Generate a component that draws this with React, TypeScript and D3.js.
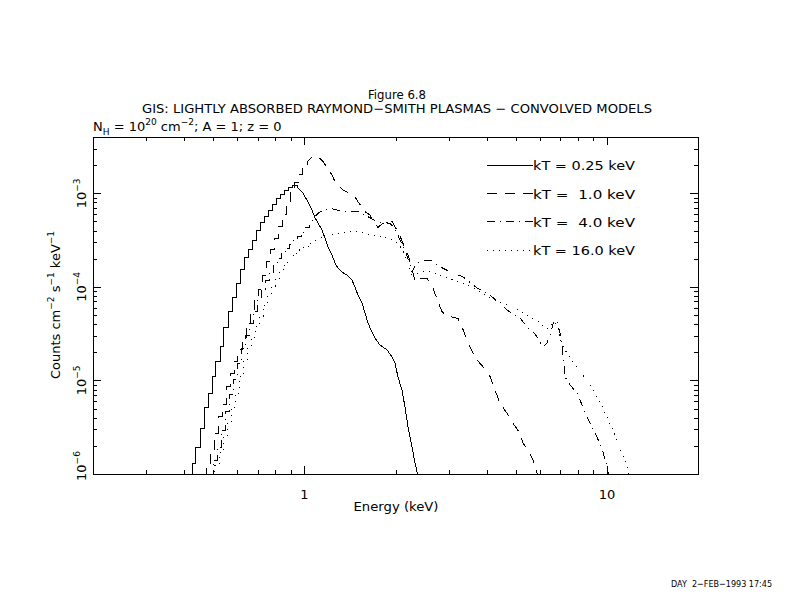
import React from 'react';
import * as d3 from 'd3';

type Pt = [number, number];

// ---- data (energy keV, counts cm^-2 s^-1 keV^-1) ----
const kt025Steps: Pt[] = [
  [0.425, 9e-7], [0.425, 1.28e-6], [0.438, 1.9e-6], [0.452, 3.03e-6], [0.466, 5.08e-6],
  [0.48, 7.34e-6], [0.495, 1.09e-5], [0.51, 1.61e-5], [0.526, 2.33e-5], [0.542, 3.64e-5],
  [0.559, 5.39e-5], [0.577, 7.61e-5], [0.594, 1.09e-4], [0.613, 1.55e-4], [0.632, 2.06e-4],
  [0.651, 2.54e-4], [0.671, 3.17e-4], [0.692, 3.96e-4], [0.714, 4.82e-4], [0.736, 5.65e-4],
  [0.759, 6.63e-4], [0.782, 7.69e-4], [0.806, 8.7e-4], [0.831, 9.83e-4], [0.857, 1.085e-3],
  [0.883, 1.154e-3], [0.911, 1.21e-3],
];
const kt025Tail: Pt[] = [
  [0.952, 1.146e-3], [0.989, 1.008e-3], [1.027, 8.08e-4], [1.059, 6.63e-4], [1.084, 5.45e-4],
  [1.109, 4.82e-4], [1.143, 4.06e-4], [1.169, 3.33e-4], [1.196, 2.67e-4], [1.233, 2.19e-4],
  [1.262, 1.8e-4], [1.291, 1.59e-4], [1.331, 1.44e-4], [1.383, 1.34e-4], [1.436, 1.18e-4],
  [1.469, 9.97e-5], [1.503, 8.19e-5], [1.55, 6.73e-5], [1.586, 5.26e-5], [1.622, 4.11e-5],
  [1.672, 3.29e-5], [1.711, 2.84e-5], [1.777, 2.39e-5], [1.875, 2.12e-5], [1.947, 1.78e-5],
  [1.992, 1.54e-5], [2.038, 1.09e-5], [2.101, 7.9e-6], [2.15, 5.2e-6], [2.2, 3.18e-6],
  [2.268, 1.94e-6], [2.32, 1.31e-6], [2.374, 9.5e-7],
];

const kt1Steps: Pt[] = [
  [0.473, 9e-7], [0.473, 1.16e-6], [0.488, 1.72e-6], [0.503, 2.74e-6], [0.518, 4.07e-6],
  [0.534, 5.47e-6], [0.551, 8.51e-6], [0.568, 1.2e-5], [0.585, 1.61e-5], [0.603, 2.12e-5],
  [0.622, 2.77e-5], [0.641, 3.73e-5], [0.661, 5.26e-5], [0.682, 7.24e-5], [0.703, 9.49e-5],
  [0.725, 1.31e-4], [0.747, 1.85e-4], [0.77, 2.48e-4], [0.794, 3.33e-4], [0.819, 4.47e-4],
  [0.844, 5.87e-4], [0.87, 7.88e-4], [0.897, 1.03e-3], [0.925, 1.29e-3], [0.953, 1.57e-3],
  [0.983, 1.87e-3],
];
const kt1Tail: Pt[] = [
  [1.02, 2.16e-3], [1.059, 2.43e-3], [1.109, 2.46e-3], [1.152, 2.18e-3], [1.196, 1.85e-3],
  [1.233, 1.57e-3], [1.262, 1.33e-3], [1.291, 1.23e-3], [1.341, 1.085e-3], [1.415, 1.0e-3],
  [1.469, 9.2e-4], [1.503, 8.14e-4], [1.55, 7.14e-4], [1.586, 6.36e-4], [1.647, 5.87e-4],
  [1.685, 4.97e-4], [1.75, 4.33e-4], [1.805, 4.7e-4], [1.875, 5.06e-4], [1.947, 5.06e-4],
  [1.992, 4.4e-4], [2.069, 3.5e-4], [2.117, 2.92e-4], [2.2, 2.19e-4], [2.268, 1.58e-4],
  [2.32, 1.14e-4], [2.41, 1.235e-4], [2.542, 1.235e-4], [2.661, 9.66e-5], [2.764, 6.94e-5],
  [2.85, 5.43e-5], [2.96, 4.88e-5], [3.218, 4.61e-5], [3.318, 3.75e-5], [3.473, 2.49e-5],
  [3.72, 1.65e-5], [3.894, 1.4e-5], [4.107, 1.1e-5], [4.266, 7.9e-6], [4.432, 5.7e-6],
  [4.674, 4.46e-6], [4.892, 3.48e-6], [5.16, 2.72e-6], [5.279, 2.13e-6], [5.485, 1.81e-6],
  [5.697, 1.41e-6], [5.874, 1.02e-6], [5.919, 9.3e-7],
];

const kt4Steps: Pt[] = [
  [0.499, 9e-7], [0.499, 1.41e-6], [0.514, 1.94e-6], [0.53, 2.95e-6], [0.547, 4.6e-6],
  [0.564, 6.99e-6], [0.581, 1.036e-5], [0.599, 1.5e-5], [0.617, 2.17e-5], [0.637, 2.99e-5],
  [0.656, 4.11e-5], [0.677, 5.52e-5], [0.698, 7.24e-5], [0.719, 9.49e-5], [0.741, 1.156e-4],
  [0.764, 1.44e-4], [0.788, 1.71e-4], [0.812, 1.99e-4], [0.838, 2.3e-4], [0.863, 2.6e-4],
  [0.89, 2.87e-4], [0.918, 3.17e-4], [0.946, 3.45e-4], [0.975, 3.86e-4], [1.006, 4.26e-4],
];
const kt4Tail: Pt[] = [
  [1.043, 4.78e-4], [1.084, 5.63e-4], [1.109, 6.12e-4], [1.152, 6.63e-4], [1.215, 6.92e-4],
  [1.281, 6.63e-4], [1.341, 6.36e-4], [1.492, 6.47e-4], [1.586, 5.87e-4], [1.737, 4.97e-4],
  [1.918, 4.78e-4], [1.992, 4.23e-4], [2.069, 3.17e-4], [2.15, 2.48e-4], [2.217, 1.85e-4],
  [2.268, 1.44e-4], [2.338, 1.76e-4], [2.447, 1.89e-4], [2.601, 1.94e-4], [2.807, 1.64e-4],
  [3.029, 1.45e-4], [3.343, 1.28e-4], [3.72, 9.73e-5], [4.107, 8.19e-5], [4.674, 5.66e-5],
  [5.16, 4.65e-5], [5.443, 3.75e-5], [5.784, 3.14e-5], [6.01, 2.58e-5], [6.147, 2.29e-5],
  [6.336, 2.51e-5], [6.483, 3.06e-5], [6.634, 4.01e-5], [6.735, 4.43e-5], [6.84, 4.21e-5],
  [6.998, 3.21e-5], [7.104, 2.39e-5], [7.268, 1.09e-5], [7.551, 8.94e-6], [7.962, 7.34e-6],
  [8.593, 4.07e-6], [9.272, 2.49e-6], [9.705, 1.72e-6], [10.01, 1.19e-6], [10.16, 9.3e-7],
];

const kt16Steps: Pt[] = [
  [0.506, 9e-7], [0.506, 1.22e-6], [0.522, 1.68e-6], [0.538, 2.43e-6], [0.555, 3.6e-6],
  [0.572, 5.2e-6], [0.59, 7.34e-6], [0.608, 1.09e-5], [0.627, 1.61e-5], [0.646, 2.22e-5],
  [0.666, 2.91e-5], [0.687, 3.73e-5], [0.708, 4.88e-5], [0.73, 6.4e-5], [0.753, 8.19e-5],
  [0.776, 1.02e-4], [0.8, 1.21e-4], [0.825, 1.44e-4], [0.85, 1.69e-4], [0.877, 1.94e-4],
  [0.904, 2.14e-4], [0.932, 2.3e-4], [0.961, 2.48e-4], [0.99, 2.67e-4],
];
const kt16Tail: Pt[] = [
  [1.043, 2.92e-4], [1.126, 3.31e-4], [1.215, 3.58e-4], [1.311, 3.74e-4], [1.415, 3.89e-4],
  [1.492, 3.89e-4], [1.685, 3.58e-4], [1.918, 3.31e-4], [2.038, 2.92e-4], [2.117, 2.48e-4],
  [2.2, 1.8e-4], [2.268, 1.34e-4], [2.302, 1.21e-4], [2.374, 1.41e-4], [2.447, 1.45e-4],
  [2.601, 1.45e-4], [2.807, 1.34e-4], [3.099, 1.18e-4], [3.608, 9.85e-5], [4.202, 7.42e-5],
  [4.781, 6.25e-5], [5.443, 5.0e-5], [6.01, 4.11e-5], [6.336, 3.55e-5], [6.533, 3.91e-5],
  [6.735, 4.21e-5], [6.892, 3.55e-5], [7.104, 2.39e-5], [7.551, 1.74e-5], [7.962, 1.39e-5],
  [8.463, 1.06e-5], [8.994, 7.9e-6], [9.486, 5.88e-6], [10.01, 4.07e-6], [10.8, 2.31e-6],
  [11.65, 1.19e-6], [11.83, 9.3e-7],
];

const seriesLabels = ['kT = 0.25 keV', 'kT =  1.0 keV', 'kT =  4.0 keV', 'kT = 16.0 keV'];
const xTickValues = [1, 10];
const xTickLabels = ['1', '10'];
const yTickValues = [1e-6, 1e-5, 1e-4, 1e-3];
const yTickExponents = ['\u22126', '\u22125', '\u22124', '\u22123'];
const figureLabel = 'Figure 6.8';
const titleText = 'GIS: LIGHTLY ABSORBED RAYMOND\u2212SMITH PLASMAS \u2212 CONVOLVED MODELS';
const xAxisLabel = 'Energy (keV)';
const stampText = 'DAY  2\u2212FEB\u22121993 17:45';

// ---- layout ----
const W = 792, H = 612;
const X0 = 93, X1 = 698, Y0 = 137, Y1 = 474;
const FONT = '"DejaVu Sans", sans-serif';
const dashStyles = [undefined, '10 8', '8 5 1 5', '1 5'];

export default function App() {
  const x = d3.scaleLog().domain([0.2, 20]).range([X0, X1]);
  const y = d3.scaleLog().domain([1e-6, 4e-3]).range([Y1, Y0]);
  const stepGen = d3.line<Pt>().x(d => x(d[0])).y(d => y(d[1])).curve(d3.curveStepAfter);
  const linGen = d3.line<Pt>().x(d => x(d[0])).y(d => y(d[1]));
  const pathFor = (steps: Pt[], tail: Pt[]) =>
    (stepGen([...steps, tail[0]]) || '') + (linGen(tail) || '').replace(/^M/, 'L');

  const series = [
    pathFor(kt025Steps, kt025Tail),
    pathFor(kt1Steps, kt1Tail),
    pathFor(kt4Steps, kt4Tail),
    pathFor(kt16Steps, kt16Tail),
  ];

  const xMinor: number[] = [];
  [0.1, 1, 10].forEach(dec => { for (let k = 2; k <= 9; k++) { const v = k * dec; if (v > 0.2 && v < 20 && v !== 1 && v !== 10) xMinor.push(v); } });
  const yMinor: number[] = [];
  [1e-6, 1e-5, 1e-4, 1e-3].forEach(dec => { for (let k = 2; k <= 9; k++) { const v = k * dec; if (v < 4e-3) yMinor.push(v); } });

  const ticks: JSX.Element[] = [];
  xMinor.forEach((v, i) => {
    const px = Math.round(x(v)) + 0.5;
    ticks.push(<line key={'xb' + i} x1={px} x2={px} y1={Y1} y2={Y1 - 4} />);
    ticks.push(<line key={'xt' + i} x1={px} x2={px} y1={Y0} y2={Y0 + 4} />);
  });
  xTickValues.forEach((v, i) => {
    const px = Math.round(x(v)) + 0.5;
    ticks.push(<line key={'XB' + i} x1={px} x2={px} y1={Y1} y2={Y1 - 8} />);
    ticks.push(<line key={'XT' + i} x1={px} x2={px} y1={Y0} y2={Y0 + 8} />);
  });
  yMinor.forEach((v, i) => {
    const py = Math.round(y(v)) + 0.5;
    ticks.push(<line key={'yl' + i} x1={X0} x2={X0 + 4} y1={py} y2={py} />);
    ticks.push(<line key={'yr' + i} x1={X1} x2={X1 - 4} y1={py} y2={py} />);
  });
  yTickValues.forEach((v, i) => {
    const py = Math.round(y(v)) + 0.5;
    ticks.push(<line key={'YL' + i} x1={X0} x2={X0 + 8} y1={py} y2={py} />);
    ticks.push(<line key={'YR' + i} x1={X1} x2={X1 - 8} y1={py} y2={py} />);
  });

  const legendY = [165, 193.5, 221.5, 250];

  return (
    <svg width={W} height={H} viewBox={`0 0 ${W} ${H}`}
      style={{ position: 'absolute', left: 0, top: 0, background: '#fff' }}
      fontFamily={FONT}>
      <rect x={0} y={0} width={W} height={H} fill="#fff" />
      <defs>
        <clipPath id="plotClip">
          <rect x={X0} y={Y0} width={X1 - X0} height={Y1 - Y0} />
        </clipPath>
      </defs>

      {/* titles */}
      <text x={397} y={98.5} textAnchor="middle" fontSize={12} textLength={58} lengthAdjust="spacingAndGlyphs">{figureLabel}</text>
      <text x={397} y={113} textAnchor="middle" fontSize={12.5} textLength={510} lengthAdjust="spacingAndGlyphs">{titleText}</text>
      <text x={93} y={131} fontSize={13} style={{ whiteSpace: 'pre' }}>
        N<tspan fontSize={9} dy={4}>H</tspan>
        <tspan dy={-4}>{' = 10'}</tspan>
        <tspan fontSize={9} dy={-6}>20</tspan>
        <tspan dy={6}>{' cm'}</tspan>
        <tspan fontSize={9} dy={-6}>{'\u22122'}</tspan>
        <tspan dy={6}>{'; A = 1; z = 0'}</tspan>
      </text>

      {/* axes box */}
      <g stroke="#000" strokeWidth={1} shapeRendering="crispEdges" fill="none">
        <rect x={X0 + 0.5} y={Y0 + 0.5} width={X1 - X0} height={Y1 - Y0} />
        {ticks}
      </g>

      {/* x tick labels */}
      {xTickValues.map((v, i) => (
        <text key={'xl' + i} x={x(v)} y={499} textAnchor="middle" fontSize={13}>{xTickLabels[i]}</text>
      ))}
      <text x={396} y={511} textAnchor="middle" fontSize={13} textLength={85} lengthAdjust="spacingAndGlyphs">{xAxisLabel}</text>

      {/* y tick labels */}
      {yTickValues.map((v, i) => {
        const cy = i === 0 ? y(v) - 8 : y(v);
        return (
          <text key={'yl' + i} transform={`translate(86,${cy}) rotate(-90)`} textAnchor="middle" fontSize={13}>
            10<tspan fontSize={9} dy={-6}>{yTickExponents[i]}</tspan>
          </text>
        );
      })}
      <text transform={`translate(60,305) rotate(-90)`} textAnchor="middle" fontSize={13} style={{ whiteSpace: 'pre' }}>
        {'Counts cm'}<tspan fontSize={9} dy={-6}>{'\u22122'}</tspan>
        <tspan dy={6}>{' s'}</tspan><tspan fontSize={9} dy={-6}>{'\u22121'}</tspan>
        <tspan dy={6}>{' keV'}</tspan><tspan fontSize={9} dy={-6}>{'\u22121'}</tspan>
      </text>

      {/* curves */}
      <g clipPath="url(#plotClip)" fill="none" stroke="#000" strokeWidth={1} shapeRendering="crispEdges">
        {series.map((d, i) => (
          <path key={'s' + i} d={d} strokeDasharray={dashStyles[i]} />
        ))}
      </g>

      {/* legend */}
      {seriesLabels.map((lab, i) => (
        <g key={'lg' + i}>
          <line x1={487} x2={533} y1={legendY[i]} y2={legendY[i]} stroke="#000" strokeWidth={1}
            strokeDasharray={dashStyles[i]} shapeRendering="crispEdges" />
          <text x={533} y={legendY[i] + 5} fontSize={12.5} textLength={102} lengthAdjust="spacingAndGlyphs"
            style={{ whiteSpace: 'pre' }}>{lab}</text>
        </g>
      ))}

      {/* time stamp */}
      <text x={671} y={587} fontSize={9.5} textLength={101} lengthAdjust="spacingAndGlyphs" style={{ whiteSpace: 'pre' }}>{stampText}</text>
    </svg>
  );
}
